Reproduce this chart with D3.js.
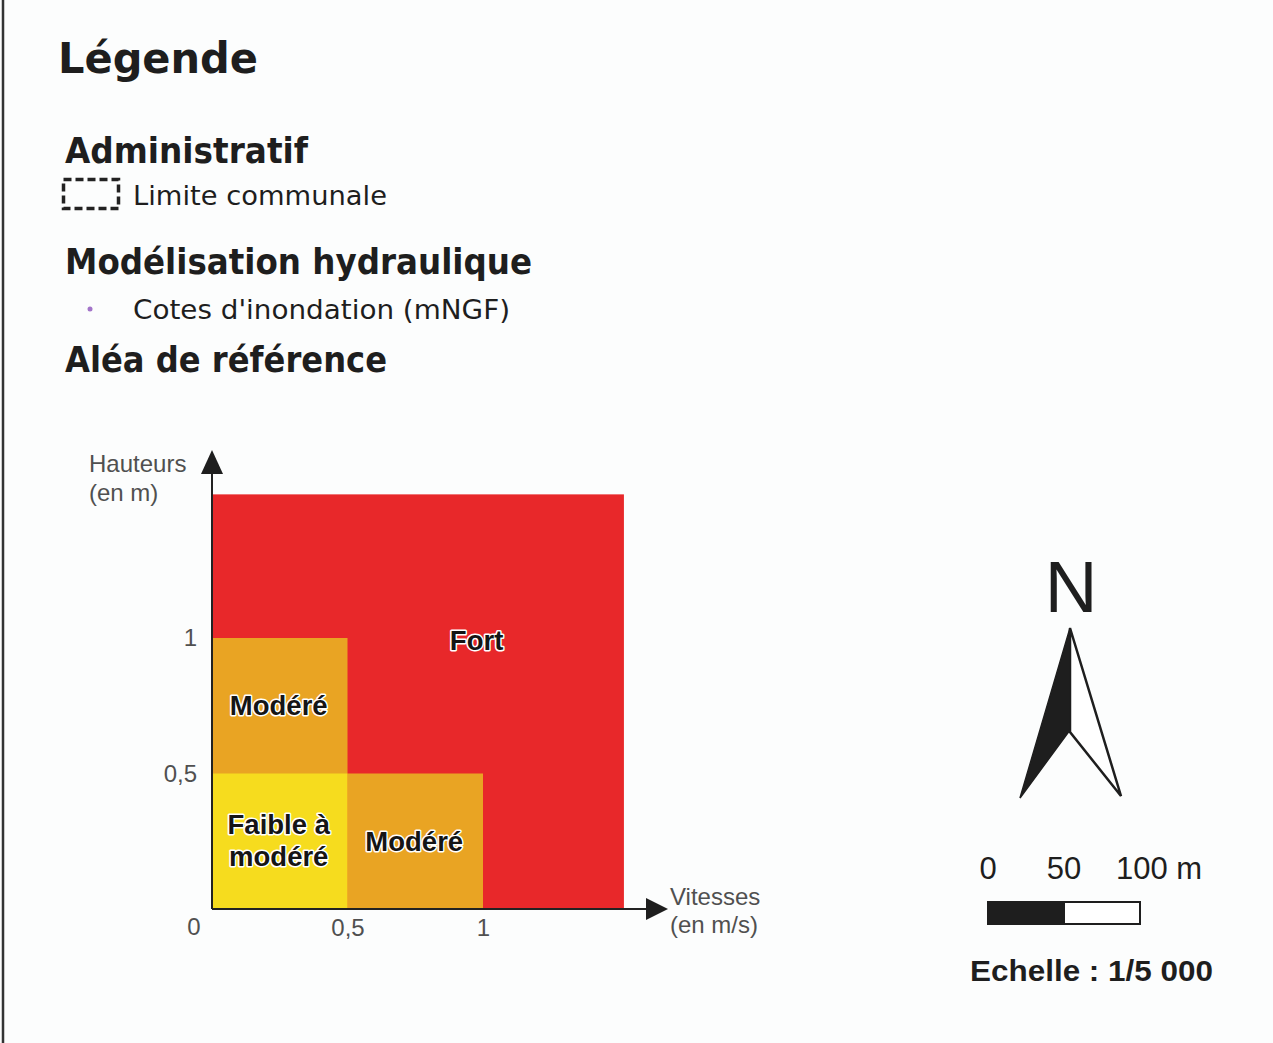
<!DOCTYPE html>
<html>
<head>
<meta charset="utf-8">
<script src="https://cdn.jsdelivr.net/npm/d3@7"></script>
<style>
  body { margin: 0; background: #fcfdfd; }
  svg { display: block; }
</style>
</head>
<body>
<svg width="1273" height="1043"></svg>
<script>
// legend sections
var headings = ["Légende", "Administratif", "Modélisation hydraulique", "Aléa de référence"];
var legendItems = ["Limite communale", "Cotes d'inondation (mNGF)"];

// hazard grid: velocity (m/s) x height (m)
var zoneNames = ["Fort", "Modéré", "Modéré", "Faible à modéré"];
var zoneX0 = [0, 0, 0.5, 0];
var zoneX1 = [1.52, 0.5, 1, 0.5];
var zoneY0 = [0, 0, 0, 0];
var zoneY1 = [1.53, 1, 0.5, 0.5];
var zoneLabelX = [0.98, 0.25, 0.75, 0.25];
var zoneLabelY = [0.99, 0.75, 0.25, 0.25];
var zoneColors = ["#e8282a", "#e9a423", "#e9a423", "#f6dc1e"];
var xTicks = [0.5, 1];
var yTicks = [0.5, 1];
var xTitle = ["Vitesses", "(en m/s)"];
var yTitle = ["Hauteurs", "(en m)"];

// scale bar
var scaleTicks = [0, 50, 100];
var scaleUnit = "m";
var scaleText = "Echelle : 1/5 000";

var svg = d3.select('svg');
var headFont = "'DejaVu Sans', Verdana, sans-serif";
var arial = "'Liberation Sans', Arial, sans-serif";

// left border
svg.append("line")
    .attr("x1", 3).attr("x2", 3).attr("y1", 0).attr("y2", 1043)
    .attr("stroke", "#333").attr("stroke-width", 2.5);

// headings
var headPos = [
    {x: 58, y: 73, size: 42, w: 200},
    {x: 65, y: 163, size: 35, w: 243},
    {x: 65, y: 274, size: 35, w: 467},
    {x: 65, y: 372, size: 35, w: 322}
];
headings.forEach(function(h, i) {
    svg.append("text")
        .attr("x", headPos[i].x).attr("y", headPos[i].y)
        .attr("font-family", headFont).attr("font-weight", "bold")
        .attr("font-size", headPos[i].size)
        .attr("textLength", headPos[i].w).attr("lengthAdjust", "spacingAndGlyphs")
        .attr("fill", "#1e1e1e")
        .text(h);
});

// legend items
svg.append("rect")
    .attr("x", 63.5).attr("y", 179.5).attr("width", 55).attr("height", 29)
    .attr("fill", "none").attr("stroke", "#222").attr("stroke-width", 3.5)
    .attr("stroke-dasharray", "8,4");
svg.append("circle")
    .attr("cx", 90).attr("cy", 309).attr("r", 2.5).attr("fill", "#a374c9");

var itemPos = [{x: 133, y: 205, w: 254}, {x: 133, y: 319, w: 377}];
legendItems.forEach(function(t, i) {
    svg.append("text")
        .attr("x", itemPos[i].x).attr("y", itemPos[i].y)
        .attr("font-family", headFont).attr("font-size", 27)
        .attr("textLength", itemPos[i].w).attr("lengthAdjust", "spacingAndGlyphs")
        .attr("fill", "#1e1e1e")
        .text(t);
});

// hazard chart
var x = d3.scaleLinear().domain([0, 1]).range([212, 483]);
var y = d3.scaleLinear().domain([0, 1]).range([909, 638]);

var chart = svg.append("g");
var zones = zoneNames.map(function(n, i) {
    return {name: n, x0: zoneX0[i], x1: zoneX1[i], y0: zoneY0[i], y1: zoneY1[i],
            lx: zoneLabelX[i], ly: zoneLabelY[i], color: zoneColors[i]};
});

chart.selectAll("rect.zone")
    .data(zones).enter()
    .append("rect")
    .attr("class", "zone")
    .attr("x", function(d) { return x(d.x0); })
    .attr("y", function(d) { return y(d.y1); })
    .attr("width", function(d) { return x(d.x1) - x(d.x0); })
    .attr("height", function(d) { return y(d.y0) - y(d.y1); })
    .attr("fill", function(d) { return d.color; });

var labels = chart.selectAll("text.zone")
    .data(zones).enter()
    .append("text")
    .attr("class", "zone")
    .attr("x", function(d) { return x(d.lx); })
    .attr("y", function(d) { return y(d.ly); })
    .attr("text-anchor", "middle")
    .attr("font-family", arial).attr("font-weight", "bold").attr("font-size", 27.5)
    .attr("fill", "#151515")
    .attr("stroke", "#fff").attr("stroke-width", 3).attr("stroke-linejoin", "round")
    .attr("paint-order", "stroke");

labels.each(function(d) {
    var words = d.name === "Faible à modéré" ? ["Faible à", "modéré"] : [d.name];
    var t = d3.select(this);
    words.forEach(function(w, k) {
        t.append("tspan")
            .attr("x", x(d.lx) - 1)
            .attr("dy", words.length === 1 ? "0.35em" : (k === 0 ? "-0.28em" : "1.18em"))
            .text(w);
    });
});

var fmt = function(v) { return d3.format("")(v).replace(".", ","); };

var xAxis = chart.append("g")
    .attr("transform", "translate(0," + y(0) + ")")
    .call(d3.axisBottom(x).tickValues(xTicks).tickSize(0).tickPadding(10).tickFormat(fmt));
xAxis.select(".domain").remove();
xAxis.selectAll("text").attr("font-family", arial).attr("font-size", 24).attr("fill", "#505050");

var yAxis = chart.append("g")
    .attr("transform", "translate(" + x(0) + ",0)")
    .call(d3.axisLeft(y).tickValues(yTicks).tickSize(0).tickPadding(15).tickFormat(fmt));
yAxis.select(".domain").remove();
yAxis.selectAll("text").attr("font-family", arial).attr("font-size", 24).attr("fill", "#505050");

chart.append("text")
    .attr("x", x(0) - 18).attr("y", y(0) + 26).attr("text-anchor", "middle")
    .attr("font-family", arial).attr("font-size", 24).attr("fill", "#505050")
    .text("0");

// axis lines with arrow heads
chart.append("line")
    .attr("x1", x(0)).attr("x2", x(0)).attr("y1", y(0)).attr("y2", 468)
    .attr("stroke", "#222").attr("stroke-width", 2);
chart.append("path")
    .attr("d", "M" + x(0) + ",450 L" + (x(0) - 11) + ",474 L" + (x(0) + 11) + ",474 Z")
    .attr("fill", "#1e1e1e");
chart.append("line")
    .attr("x1", x(0)).attr("x2", 650).attr("y1", y(0)).attr("y2", y(0))
    .attr("stroke", "#222").attr("stroke-width", 2);
chart.append("path")
    .attr("d", "M668," + y(0) + " L646," + (y(0) - 11) + " L646," + (y(0) + 11) + " Z")
    .attr("fill", "#1e1e1e");

yTitle.forEach(function(t, i) {
    chart.append("text")
        .attr("x", 89).attr("y", 472 + i * 29)
        .attr("font-family", arial).attr("font-size", 24).attr("fill", "#505050")
        .text(t);
});
xTitle.forEach(function(t, i) {
    chart.append("text")
        .attr("x", 670).attr("y", 905 + i * 28)
        .attr("font-family", arial).attr("font-size", 24).attr("fill", "#505050")
        .text(t);
});

// north arrow
var north = svg.append("g");
north.append("text")
    .attr("x", 1071).attr("y", 612).attr("text-anchor", "middle")
    .attr("font-family", arial).attr("font-size", 73).attr("fill", "#1e1e1e")
    .text("N");
north.append("path")
    .attr("d", "M1070,628 L1121,796 L1070,732 Z")
    .attr("fill", "#fff").attr("stroke", "#1e1e1e").attr("stroke-width", 2.5)
    .attr("stroke-linejoin", "miter");
north.append("path")
    .attr("d", "M1070,628 L1070,730 L1020,798 Z")
    .attr("fill", "#1e1e1e").attr("stroke", "#1e1e1e").attr("stroke-width", 1.5);

// scale bar
var sb = d3.scaleLinear().domain([0, 100]).range([988, 1140]);
var bar = svg.append("g");
bar.selectAll("rect")
    .data(d3.pairs(scaleTicks)).enter()
    .append("rect")
    .attr("x", function(d) { return sb(d[0]); })
    .attr("y", 902)
    .attr("width", function(d) { return sb(d[1]) - sb(d[0]); })
    .attr("height", 22)
    .attr("fill", function(d, i) { return i === 0 ? "#1e1e1e" : "#fff"; })
    .attr("stroke", "#1e1e1e").attr("stroke-width", 2);
bar.selectAll("text")
    .data(scaleTicks).enter()
    .append("text")
    .attr("x", function(d) { return sb(d); })
    .attr("y", 879)
    .attr("text-anchor", function(d, i) { return i === scaleTicks.length - 1 ? "start" : "middle"; })
    .attr("dx", function(d, i) { return i === scaleTicks.length - 1 ? -24 : 0; })
    .attr("font-family", arial).attr("font-size", 31).attr("fill", "#1e1e1e")
    .text(function(d, i) { return i === scaleTicks.length - 1 ? d + " " + scaleUnit : d; });
svg.append("text")
    .attr("x", 970).attr("y", 981)
    .attr("font-family", arial).attr("font-weight", "bold").attr("font-size", 29)
    .attr("textLength", 243).attr("lengthAdjust", "spacingAndGlyphs")
    .attr("fill", "#1e1e1e")
    .text(scaleText);
</script>
</body>
</html>
